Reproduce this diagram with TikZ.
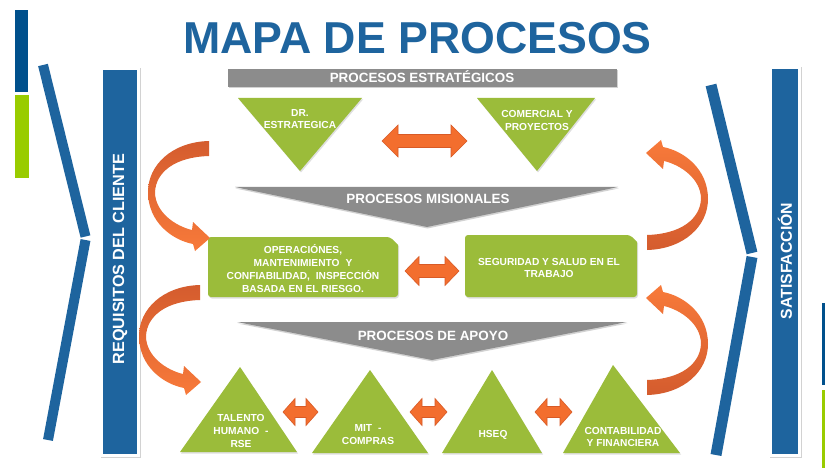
\documentclass[tikz,border=0pt]{standalone}
\usepackage{fontspec}
\setmainfont{Liberation Sans}
\usetikzlibrary{shadows}
\definecolor{mblue}{RGB}{30,100,158}
\definecolor{dblue}{RGB}{0,80,140}
\definecolor{lgreen}{RGB}{153,204,0}
\definecolor{pgreen}{RGB}{155,188,58}
\definecolor{pgray}{RGB}{140,140,140}
\definecolor{orMain}{RGB}{243,110,46}
\definecolor{orDark}{RGB}{212,92,46}
\definecolor{orLight}{RGB}{248,122,58}
\definecolor{orEdge}{RGB}{216,90,38}
\newcommand\curvpath{(61,-51) .. controls (24,-50) and (0,-27) .. (0,0) .. controls (0,30) and (24,48) .. (45,52) -- (47,59) -- (62,46) -- (45,30) -- (44,38) .. controls (27,34) and (7,20) .. (7,0) .. controls (8,-20) and (27,-35) .. (61,-36) -- cycle}
\newcommand\dblarr[7]{% name cx cy L H S hl
  \path[dblarrow] ({#2-#4/2},#3) -- ({#2-#4/2+#7},{#3-#5/2}) -- ({#2-#4/2+#7},{#3-#6/2}) -- ({#2+#4/2-#7},{#3-#6/2}) -- ({#2+#4/2-#7},{#3-#5/2}) -- ({#2+#4/2},#3) -- ({#2+#4/2-#7},{#3+#5/2}) -- ({#2+#4/2-#7},{#3+#6/2}) -- ({#2-#4/2+#7},{#3+#6/2}) -- ({#2-#4/2+#7},{#3+#5/2}) -- cycle;
  \coordinate (#1) at (#2,#3);}
\tikzset{
  dblarrow/.style={fill=orMain, draw=orEdge, line width=0.6pt, line join=miter},
  greenshape/.style={fill=pgreen, drop shadow={opacity=0.25, shadow xshift=1pt, shadow yshift=-1.5pt}},
  grayshape/.style={fill=pgray, drop shadow={opacity=0.35, shadow xshift=0.5pt, shadow yshift=-1.5pt}},
  wtxt/.style={text=white, font=\bfseries\fontsize{10.2}{12.9}\selectfont, align=center, inner sep=0pt},
  graytxt/.style={text=white, font=\bfseries\fontsize{13.4}{15}\selectfont, inner sep=0pt, anchor=base},
  vtxt/.style={text=white, font=\bfseries\fontsize{16.2}{18}\selectfont, inner sep=0pt, rotate=90},
  chev/.style={draw=mblue, line width=10pt, line cap=butt},
}
\begin{document}
\begin{tikzpicture}[x=1pt,y=-1pt]
\useasboundingbox[fill=white] (0,0) rectangle (825,468);

% side bars
\fill[dblue] (15,10) rectangle (28,92);
\fill[lgreen] (15,95) rectangle (29,178);
\fill[dblue] (822,303) rectangle (828,385);
\fill[lgreen] (822,390) rectangle (828,468);

% chevrons
\draw[chev] (43,65) -- (85.5,236.5);
\draw[chev] (85.5,240) -- (48,440);
\draw[chev, line width=11pt] (711,85) -- (752,253);
\draw[chev, line width=11pt] (752,257) -- (716,455);

% title
\node[text=mblue, font=\bfseries\fontsize{44.7}{50}\selectfont, anchor=base, inner sep=0pt] (title) at (417.5,54) {MAPA DE PROCESOS};

% vertical boxes
\fill[white, drop shadow={opacity=0.35, shadow xshift=1pt, shadow yshift=-1pt}] (100,67) rectangle (140,457);
\fill[mblue] (103,70) rectangle (137,454);
\node[vtxt] (req) at (120,259) {REQUISITOS DEL CLIENTE};
\fill[white, drop shadow={opacity=0.35, shadow xshift=1pt, shadow yshift=-1pt}] (769,66) rectangle (801,457);
\fill[mblue] (772,69) rectangle (798,454);
\node[vtxt, font=\bfseries\fontsize{15.8}{18}\selectfont] (sat) at (785,261) {SATISFACCIÓN};

% gray headers
\path[grayshape] (228,69) rectangle (617,87);
\node[graytxt] (pe) at (422,83) {PROCESOS ESTRATÉGICOS};
\path[grayshape] (235,187) -- (618,187) -- (427,227) -- cycle;
\node[graytxt] (pm) at (428,204) {PROCESOS MISIONALES};
\path[grayshape] (237,322) -- (627,322) -- (432,360) -- cycle;
\node[graytxt] (pa) at (433,340) {PROCESOS DE APOYO};

% strategic triangles
\path[greenshape] (238,98) -- (362,98) -- (300,171) -- cycle;
\node[wtxt] (dr) at (300,119) {DR.\\ESTRATEGICA};
\path[greenshape] (477,98) -- (595,98) -- (537,171) -- cycle;
\node[wtxt] (com) at (537,120.5) {COMERCIAL Y\\PROYECTOS};

% missional boxes
\path[greenshape, rounded corners=3pt] (208,297) -- (208,237) -- (390,237) [sharp corners] -- (398,245) [rounded corners=3pt] -- (398,297) -- cycle;
\node[wtxt] (ops) at (303,268.5) {OPERACIÓNES,\\MANTENIMIENTO\hspace{0.3em} Y\\CONFIABILIDAD,\hspace{0.3em} INSPECCIÓN\\BASADA EN EL RIESGO.};
\path[greenshape, rounded corners=3pt] (465,297) -- (465,235) -- (630,235) [sharp corners] -- (637,242) [rounded corners=3pt] -- (637,297) -- cycle;
\node[wtxt] (sst) at (549,268) {SEGURIDAD Y SALUD EN EL\\TRABAJO};

% support triangles
\path[greenshape] (180,452) -- (297,452) -- (240,367) -- cycle;
\node[wtxt] (th) at (241,431) {TALENTO\\HUMANO\hspace{0.3em} -\\RSE};
\path[greenshape] (312,453) -- (428,453) -- (370,370) -- cycle;
\node[wtxt] (mit) at (368,434.5) {MIT\hspace{0.3em} -\\COMPRAS};
\path[greenshape] (442,453) -- (542,453) -- (492,370) -- cycle;
\node[wtxt] (hseq) at (493,435) {HSEQ};
\path[greenshape] (563,453) -- (680,453) -- (613,365) -- cycle;
\node[wtxt] (cont) at (623,437) {CONTABILIDAD\\Y FINANCIERA};

% double arrows
\dblarr{a0}{424.5}{141}{85}{32}{13}{16}
\dblarr{a1}{432}{271}{54}{29}{13}{14}
\dblarr{a2}{300.5}{412}{35}{27}{11}{12}
\dblarr{a3}{428.5}{412}{37}{27}{11}{12}
\dblarr{a4}{553.5}{412}{37}{27}{11}{12}

% curved arrows
\begin{scope}[shift={(148,192)}]
  \path[top color=orDark, bottom color=orLight] \curvpath;
\end{scope}
\begin{scope}[shift={(139,336)}]
  \path[top color=orDark, bottom color=orLight] \curvpath;
\end{scope}
\begin{scope}[shift={(708,199)}, rotate=180]
  \path[top color=orLight, bottom color=orDark] \curvpath;
\end{scope}
\begin{scope}[shift={(708,344)}, rotate=180]
  \path[top color=orLight, bottom color=orDark] \curvpath;
\end{scope}
\end{tikzpicture}
\end{document}
